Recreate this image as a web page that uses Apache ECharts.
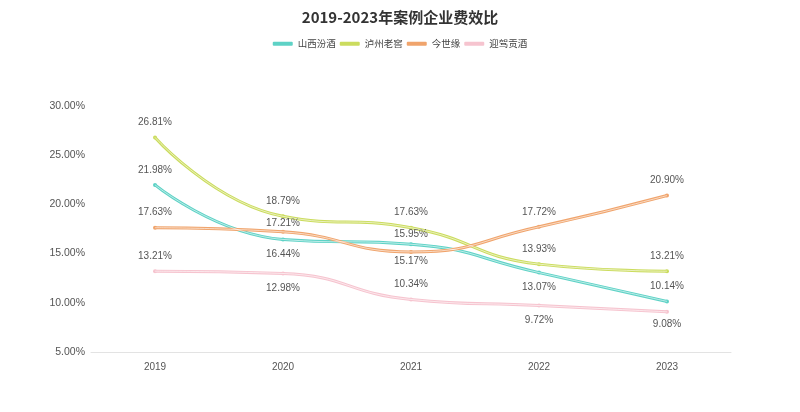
<!DOCTYPE html>
<html>
<head>
<meta charset="utf-8">
<script src="https://cdn.jsdelivr.net/npm/echarts@6/dist/echarts.min.js"></script>
<style>html,body{margin:0;padding:0;background:#fff}#c{width:800px;height:412px}</style>
</head>
<body>
<div id="c"></div>
<script>
var years = ['2019', '2020', '2021', '2022', '2023'];
var seriesNames = ['山西汾酒', '泸州老窖', '今世缘', '迎驾贡酒'];
var fenjiu = [21.98, 16.44, 15.95, 13.07, 10.14];
var luzhou = [26.81, 18.79, 17.63, 13.93, 13.21];
var jinshiyuan = [17.63, 17.21, 15.17, 17.72, 20.90];
var yingjia = [13.21, 12.98, 10.34, 9.72, 9.08];
var yTicks = [5, 10, 15, 20, 25, 30];

var values = [fenjiu, luzhou, jinshiyuan, yingjia];
var colors = ['#5ed2c6', '#cbdc5e', '#f0a46c', '#f6c4cf'];
var labelFont = '"Liberation Sans Narrow", "Liberation Sans", Arial, sans-serif';
// label placement per series per point (style only)
var labelPos = [
  ['top', 'bottom', 'top', 'bottom', 'top'],
  ['top', 'top', 'top', 'top', 'top'],
  ['top', 'top', 'bottom', 'top', 'top'],
  ['top', 'bottom', 'top', 'bottom', 'bottom']
];
var labelDist = [
  [8, 8, 3, 8, 8],
  [8, 8, 8, 8, 8],
  [8, 2, 2, 8, 8],
  [8, 8, 8, 8, 5]
];

var series = [];
values.forEach(function (vals, i) {
  series.push({
    name: seriesNames[i],
    type: 'line',
    smooth: true,
    data: vals.map(function (v, j) {
      return { value: v, label: { position: labelPos[i][j], distance: labelDist[i][j] } };
    }),
    symbol: 'circle',
    symbolSize: 4,
    showSymbol: true,
    itemStyle: { color: colors[i] },
    lineStyle: { color: colors[i], width: 3 },
    label: {
      show: true,
      color: '#555',
      fontSize: 10,
      fontFamily: labelFont,
      formatter: function (p) { return p.value.toFixed(2) + '%'; }
    },
    z: 2
  });
});
values.forEach(function (vals, i) {
  series.push({
    name: seriesNames[i] + '_inner',
    type: 'line',
    smooth: true,
    data: vals,
    symbol: 'none',
    silent: true,
    lineStyle: { color: '#ffffff', width: 1, opacity: 0.6 },
    tooltip: { show: false },
    z: 3
  });
});

var chart = echarts.init(document.getElementById('c'));
chart.setOption({
  animation: false,
  backgroundColor: '#fff',
  title: {
    text: '2019-2023年案例企业费效比',
    left: 'center',
    top: 5,
    textStyle: { fontSize: 15, fontWeight: 'bold', color: '#333', fontFamily: 'Noto Sans CJK SC, sans-serif' }
  },
  legend: {
    data: seriesNames,
    top: 34,
    left: 'center',
    itemWidth: 20,
    itemHeight: 4,
    itemGap: 4,
    icon: 'roundRect',
    textStyle: { fontSize: 9.5, color: '#444', fontFamily: 'Noto Sans CJK SC, sans-serif' }
  },
  grid: { left: 91, right: 69, top: 106, bottom: 60 },
  xAxis: {
    type: 'category',
    data: years,
    boundaryGap: true,
    axisLine: { lineStyle: { color: '#e3e3e3' } },
    axisTick: { show: false },
    axisLabel: { color: '#555', fontSize: 10, margin: 10, fontFamily: labelFont }
  },
  yAxis: {
    type: 'value',
    min: yTicks[0],
    max: yTicks[yTicks.length - 1],
    interval: 5,
    splitLine: { show: false },
    axisLine: { show: false },
    axisTick: { show: false },
    axisLabel: {
      color: '#555',
      fontSize: 10.5,
      margin: 6,
      fontFamily: labelFont,
      formatter: function (v) { return v.toFixed(2) + '%'; }
    }
  },
  series: series
});
</script>
</body>
</html>
